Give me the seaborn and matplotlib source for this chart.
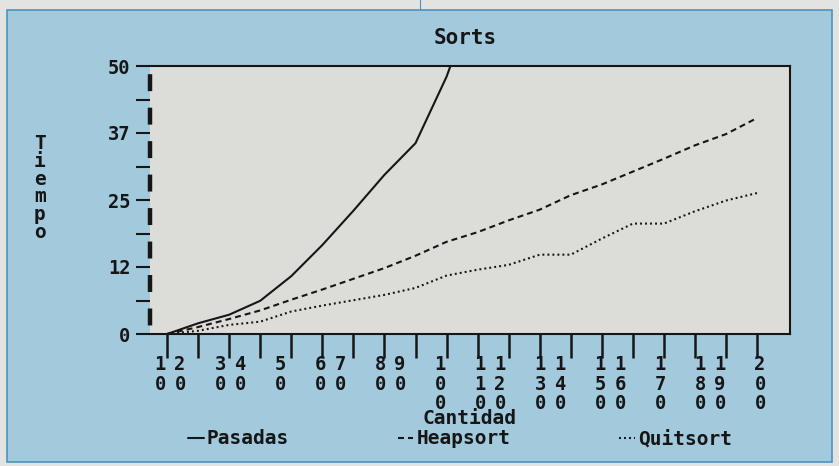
import math

import matplotlib
matplotlib.use("Agg")
import matplotlib.pyplot as plt
import pandas as pd
import seaborn as sns
from matplotlib.lines import Line2D
from matplotlib.patches import Rectangle
from matplotlib.transforms import ScaledTranslation

# ---- data -----------------------------------------------------------------
cantidad = [10, 20, 30, 40, 50, 60, 70, 80, 90, 100,
            110, 120, 130, 140, 150, 160, 170, 180, 190, 200]

# Pasadas leaves the 0-50 window after 100, later values are off the chart
pasadas_cantidad = [10, 20, 30, 40, 50, 60, 70, 80, 90, 100, 110]
pasadas = [0.0, 2.0, 3.6, 6.2, 10.8, 16.6, 23.0, 29.7, 35.6, 48.0, 64.0]

heapsort = [0.0, 1.3, 2.8, 4.4, 6.4, 8.3, 10.3, 12.3, 14.6, 17.2,
            19.0, 21.2, 23.2, 25.9, 27.9, 30.3, 32.7, 35.2, 37.3, 40.3]

quitsort = [0.0, 0.6, 1.7, 2.3, 4.2, 5.3, 6.3, 7.3, 8.6, 10.9,
            12.0, 12.9, 14.8, 14.8, 17.8, 20.6, 20.6, 22.9, 24.9, 26.3]

series_names = ["Pasadas", "Heapsort", "Quitsort"]
y_ticks = [0, 12.5, 25, 37.5, 50]
y_tick_labels = ["0", "12", "25", "37", "50"]
y_minor_ticks = [6.25, 18.75, 31.25, 43.75]

# ---- style ----------------------------------------------------------------
PAPER = "#e3e3e1"
PANEL = "#a2c9dc"
PANEL_EDGE = "#4f93bf"
PLOT_BG = "#dcdcd8"
INK = "#161616"

sns.set_style("white")
plt.rcParams.update({
    "font.family": ["DejaVu Sans Mono"],
    "font.weight": "bold",
    "axes.titleweight": "bold",
    "axes.labelweight": "bold",
    "text.color": INK,
    "lines.scale_dashes": False,
})

df = pd.concat([
    pd.DataFrame({"Cantidad": pasadas_cantidad, "Tiempo": pasadas, "Sort": "Pasadas"}),
    pd.DataFrame({"Cantidad": cantidad, "Tiempo": heapsort, "Sort": "Heapsort"}),
    pd.DataFrame({"Cantidad": cantidad, "Tiempo": quitsort, "Sort": "Quitsort"}),
], ignore_index=True)

W, H = 839, 466
fig = plt.figure(figsize=(W / 100, H / 100), dpi=100, facecolor=PAPER)

# blue card behind the chart
fig.add_artist(Rectangle((7 / W, 4 / H), (832 - 7) / W, (462 - 10) / H,
                         transform=fig.transFigure, facecolor=PANEL,
                         edgecolor=PANEL_EDGE, linewidth=1.2, zorder=-2))
fig.add_artist(Line2D([420 / W, 420 / W], [1.0, 1 - 10 / H],
                      transform=fig.transFigure, color=PANEL_EDGE, lw=0.8, zorder=-1))

ax = fig.add_axes([150 / W, (H - 334) / H, 640 / W, 268 / H])
ax.set_facecolor(PLOT_BG)

sns.lineplot(data=df, x="Cantidad", y="Tiempo", style="Sort",
             style_order=series_names,
             dashes={"Pasadas": "", "Heapsort": (4.3, 2.9), "Quitsort": (1.4, 2.2)},
             color=INK, linewidth=1.5, estimator=None, sort=False, ax=ax)

ax.set_xlim(4.5, 210.6)
ax.set_ylim(0, 50)

# x tick labels stacked one character per row
ax.set_xticks(cantidad, labels=["\n".join(str(v)) for v in cantidad])
ax.set_yticks(y_ticks, labels=y_tick_labels)
ax.set_yticks(y_minor_ticks, minor=True)
ax.tick_params(axis="y", which="both", left=True, direction="out", length=10,
               width=1.5, color=INK, pad=4, labelsize=13.5, labelcolor=INK)
ax.tick_params(axis="x", which="major", bottom=True, direction="out", length=17,
               width=1.8, color=INK, pad=-2, labelsize=13.5, labelcolor=INK)
for lab in ax.get_yticklabels():
    lab.set_fontweight("bold")

# snap the x tick labels onto a text-mode character grid
tick_px = [ax.transData.transform((v, 0))[0] for v in cantidad]
for lab, px in zip(ax.get_xticklabels(), tick_px):
    lab.set_linespacing(1.05)
    lab.set_fontweight("bold")
    col = math.floor((px - tick_px[0]) / 19.67 + 0.24)
    target = tick_px[0] - 7 + 20 * col
    lab.set_transform(lab.get_transform()
                      + ScaledTranslation((target - px) / 100, 0, fig.dpi_scale_trans))

for side in ("top", "right", "bottom"):
    ax.spines[side].set_color(INK)
    ax.spines[side].set_linewidth(1.5)
ax.spines["left"].set_visible(False)

# heavy dashed y axis, dashes sitting between the ticks
ax.add_line(Line2D([0, 0], [1, 0], transform=ax.transAxes, color=INK, lw=3.2,
                   linestyle=(18.2, (12.2, 11.9)), solid_capstyle="butt",
                   dash_capstyle="butt", clip_on=False, zorder=5))

ax.set_title("Sorts", x=0.492, y=1.104, pad=0, va="center", fontsize=15, color=INK)
ax.set_xlabel("Cantidad", fontsize=14, va="center", color=INK)
ax.xaxis.set_label_coords(0.5, -0.317)
ax.set_ylabel("\n".join("Tiempo"), rotation=0, fontsize=14, va="center",
              ha="center", linespacing=0.92, color=INK)
ax.yaxis.set_label_coords(-0.172, 0.545)

sns.move_legend(ax, "center", bbox_to_anchor=(460 / W, 1 - 439 / H),
                bbox_transform=fig.transFigure, ncol=3, title=None,
                frameon=False, handlelength=0.8, handletextpad=0.15,
                columnspacing=5.6, fontsize=14, borderpad=0)

fig.savefig("out.png", dpi=100, facecolor=fig.get_facecolor())
